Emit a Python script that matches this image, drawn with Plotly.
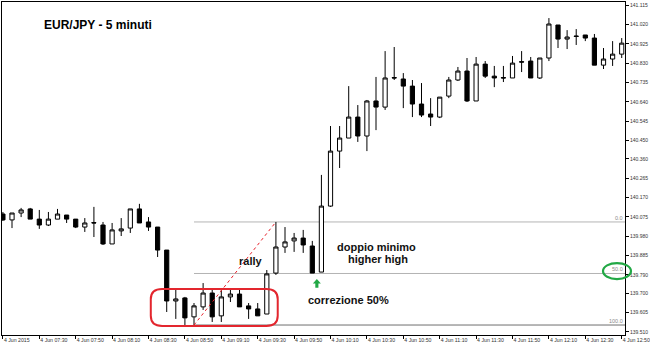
import plotly.graph_objects as go

# ---------------- data ----------------
times = [
    "07:10", "07:15", "07:20", "07:25", "07:30", "07:35", "07:40", "07:45", "07:50", "07:55",
    "08:00", "08:05", "08:10", "08:15", "08:20", "08:25", "08:30", "08:35", "08:40", "08:45",
    "08:50", "08:55", "09:00", "09:05", "09:10", "09:15", "09:20", "09:25", "09:30", "09:35",
    "09:40", "09:45", "09:50", "09:55", "10:00", "10:05", "10:10", "10:15", "10:20", "10:25",
    "10:30", "10:35", "10:40", "10:45", "10:50", "10:55", "11:00", "11:05", "11:10", "11:15",
    "11:20", "11:25", "11:30", "11:35", "11:40", "11:45", "11:50", "11:55", "12:00", "12:05",
    "12:10", "12:15", "12:20", "12:25", "12:30", "12:35", "12:40", "12:45", "12:50",
]

opens = [
    140.089, 140.060, 140.094, 140.114, 140.064, 140.035, 140.064, 140.084, 140.064, 140.025,
    140.047, 140.035, 139.942, 140.006, 140.020, 140.114, 140.050, 140.025, 139.912, 139.662,
    139.677, 139.584, 139.633, 139.701, 139.589, 139.682, 139.696, 139.638, 139.623, 139.598,
    139.799, 139.927, 139.957, 139.971, 139.932, 139.804, 140.128, 140.398, 140.462, 140.565,
    140.472, 140.644, 140.614, 140.759, 140.752, 140.717, 140.629, 140.580, 140.565, 140.668,
    140.747, 140.791, 140.644, 140.825, 140.766, 140.759, 140.757, 140.837, 140.840, 140.757,
    140.855, 141.017, 140.948, 140.963, 140.968, 140.953, 140.820, 140.850, 140.874,
]
highs = [
    140.099, 140.094, 140.119, 140.119, 140.109, 140.099, 140.114, 140.084, 140.064, 140.069,
    140.124, 140.050, 140.045, 140.069, 140.114, 140.139, 140.074, 140.025, 139.912, 139.721,
    139.682, 139.652, 139.750, 139.716, 139.716, 139.716, 139.716, 139.652, 139.652, 139.814,
    140.050, 140.025, 139.996, 140.011, 139.957, 140.281, 140.521, 140.521, 140.717, 140.624,
    140.649, 140.762, 140.889, 140.909, 140.781, 140.747, 140.732, 140.658, 140.663, 140.762,
    140.811, 140.855, 140.860, 140.840, 140.816, 140.816, 140.865, 140.889, 140.860, 140.855,
    141.051, 141.017, 140.992, 140.997, 140.968, 140.973, 140.904, 140.938, 140.953,
]
lows = [
    140.055, 140.020, 140.074, 140.064, 140.016, 140.030, 140.064, 140.045, 140.020, 140.001,
    139.976, 139.937, 139.942, 139.981, 139.996, 140.045, 140.006, 139.878, 139.608, 139.574,
    139.544, 139.544, 139.618, 139.559, 139.559, 139.657, 139.633, 139.574, 139.589, 139.598,
    139.790, 139.898, 139.903, 139.898, 139.799, 139.804, 140.124, 140.315, 140.462, 140.443,
    140.398, 140.501, 140.600, 140.747, 140.609, 140.565, 140.565, 140.521, 140.560, 140.658,
    140.742, 140.639, 140.644, 140.757, 140.712, 140.737, 140.757, 140.786, 140.757, 140.752,
    140.840, 140.904, 140.899, 140.919, 140.938, 140.820, 140.801, 140.816, 140.855,
]
closes = [
    140.060, 140.094, 140.109, 140.064, 140.035, 140.064, 140.089, 140.064, 140.025, 140.045,
    140.045, 139.942, 140.011, 140.016, 140.114, 140.045, 140.025, 139.912, 139.662, 139.672,
    139.579, 139.638, 139.701, 139.584, 139.682, 139.696, 139.633, 139.623, 139.589, 139.795,
    139.927, 139.952, 139.971, 139.937, 139.799, 140.128, 140.398, 140.462, 140.565, 140.472,
    140.644, 140.614, 140.757, 140.757, 140.717, 140.629, 140.575, 140.565, 140.663, 140.747,
    140.791, 140.644, 140.825, 140.766, 140.757, 140.757, 140.830, 140.835, 140.757, 140.855,
    141.022, 140.948, 140.958, 140.961, 140.953, 140.820, 140.850, 140.874, 140.928,
]

tick_times = ["07:10", "07:30", "07:50", "08:10", "08:30", "08:50", "09:10", "09:30", "09:50",
              "10:10", "10:30", "10:50", "11:10", "11:30", "11:50", "12:10", "12:30", "12:50"]
tick_labels = ["4 Jun 2015", "4 Jun 07:30", "4 Jun 07:50", "4 Jun 08:10", "4 Jun 08:30",
               "4 Jun 08:50", "4 Jun 09:10", "4 Jun 09:30", "4 Jun 09:50", "4 Jun 10:10",
               "4 Jun 10:30", "4 Jun 10:50", "4 Jun 11:10", "4 Jun 11:30", "4 Jun 11:50",
               "4 Jun 12:10", "4 Jun 12:30", "4 Jun 12:50"]

price_ticks = [141.115, 141.020, 140.925, 140.830, 140.735, 140.640, 140.545, 140.450, 140.360,
               140.265, 140.170, 140.075, 139.980, 139.885, 139.790, 139.700, 139.605, 139.510]

# Fibonacci retracement: from swing low to swing high
fib_low_time, fib_low = "08:55", 139.544
fib_high_time, fib_high = "09:40", 140.050
fib_levels = [0.0, 50.0, 100.0]

# ---------------- figure ----------------
xs = list(range(len(times)))
pos = {t: i for i, t in enumerate(times)}

FONT = "Liberation Sans, Arial, sans-serif"

fig = go.Figure()
fig.add_trace(go.Candlestick(
    x=xs, open=opens, high=highs, low=lows, close=closes,
    increasing=dict(line=dict(color="#000000", width=1), fillcolor="#ffffff"),
    decreasing=dict(line=dict(color="#000000", width=1), fillcolor="#000000"),
    whiskerwidth=0, showlegend=False, hoverinfo="skip",
))

x_range = [-0.1, -0.1 + 623 / 9.1]
y_range = [139.495, 141.130]

shapes = []
annotations = []

# fib levels
x_fib0 = pos[fib_low_time]
for lvl in fib_levels:
    yv = fib_high - (fib_high - fib_low) * lvl / 100.0
    col = "#6e6e6e" if lvl == 100.0 else "#b4b4b4"
    shapes.append(dict(type="line", xref="x", yref="y", x0=x_fib0, x1=x_range[1], y0=yv, y1=yv,
                       line=dict(color=col, width=1), layer="below"))
    annotations.append(dict(xref="paper", yref="y", x=0.999, y=yv, xanchor="right", yanchor="bottom",
                            text=f"{lvl:.1f}", showarrow=False, borderpad=0,
                            font=dict(size=5.5, color="#8a8a8a", family=FONT)))

# red dotted fib trend line
shapes.append(dict(type="line", xref="x", yref="y", x0=pos[fib_low_time], y0=fib_low,
                   x1=pos[fib_high_time], y1=fib_high, line=dict(color="#e8202a", width=1, dash="dot")))

# red rounded rectangle around the double bottom
rx0, rx1 = 16.25, 30.2
ry0, ry1 = 139.539, 139.721
cx, cy = 1.25, 0.05
path = (f"M {rx0+cx},{ry1} L {rx1-cx},{ry1} Q {rx1},{ry1} {rx1},{ry1-cy} "
        f"L {rx1},{ry0+cy} Q {rx1},{ry0} {rx1-cx},{ry0} L {rx0+cx},{ry0} "
        f"Q {rx0},{ry0} {rx0},{ry0+cy} L {rx0},{ry1-cy} Q {rx0},{ry1} {rx0+cx},{ry1} Z")
shapes.append(dict(type="path", xref="x", yref="y", path=path, line=dict(color="#e3262e", width=2)))

# green ellipse around 50.0 label
shapes.append(dict(type="circle", xref="paper", yref="paper", x0=0.9647, x1=1.0096, y0=0.168, y1=0.216,
                   line=dict(color="#22a845", width=2.2)))

# green up arrow
ax_c = 34.5
ahw, asw = 0.44, 0.17
a_tip, a_base, a_bot = 139.770, 139.748, 139.727
arrow = (f"M {ax_c},{a_tip} L {ax_c+ahw},{a_base} L {ax_c+asw},{a_base} L {ax_c+asw},{a_bot} "
         f"L {ax_c-asw},{a_bot} L {ax_c-asw},{a_base} L {ax_c-ahw},{a_base} Z")
shapes.append(dict(type="path", xref="x", yref="y", path=arrow, fillcolor="#22a845",
                   line=dict(width=0)))

# texts
annotations.append(dict(xref="paper", yref="paper", x=0.064, y=0.932, xanchor="left", yanchor="middle",
                        text="<b>EUR/JPY - 5 minuti</b>", showarrow=False,
                        font=dict(size=12, color="#000000", family=FONT)))
txt_font = dict(size=11, color="#111111", family=FONT)
for t, xv, yv in [("rally", 27.25, 139.858), ("doppio minimo", 41.0, 139.925),
                  ("higher high", 41.2, 139.866), ("correzione 50%", 37.97, 139.667)]:
    annotations.append(dict(xref="x", yref="y", x=xv, y=yv, xanchor="center", yanchor="middle",
                            text=f"<b>{t}</b>", showarrow=False, font=txt_font))

fig.update_layout(
    width=650, height=345,
    margin=dict(l=2, r=25, t=2, b=10, autoexpand=False),
    paper_bgcolor="#ffffff", plot_bgcolor="#ffffff",
    showlegend=False, boxgap=0.34,
    shapes=shapes, annotations=annotations,
    font=dict(family=FONT),
    xaxis=dict(range=x_range, showgrid=False, zeroline=False, rangeslider=dict(visible=False),
               automargin=False,
               tickmode="array", tickvals=[pos[t] for t in tick_times], ticktext=tick_labels,
               ticks="outside", ticklen=3, tickcolor="#000000", ticklabelposition="outside right",
               tickfont=dict(size=5.2, color="#333333", family=FONT),
               showline=True, linecolor="#000000", linewidth=1, mirror=True, fixedrange=True),
    yaxis=dict(range=y_range, side="right", showgrid=False, zeroline=False, automargin=False,
               tickmode="array", tickvals=price_ticks, ticktext=[f"{v:.3f}" for v in price_ticks],
               ticks="outside", ticklen=3, tickcolor="#000000",
               tickfont=dict(size=5, color="#333333", family=FONT),
               showline=True, linecolor="#000000", linewidth=1, mirror=True, fixedrange=True),
)

fig.write_html("out.html")
